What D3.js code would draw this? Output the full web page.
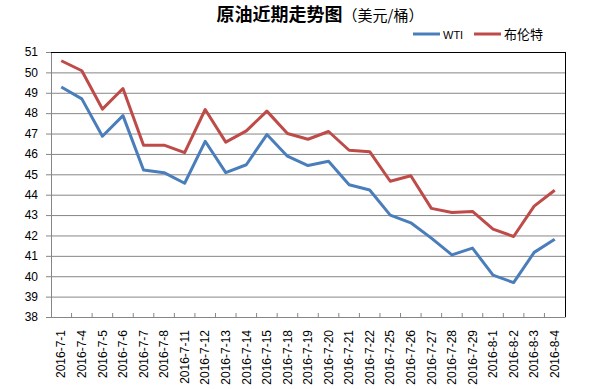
<!DOCTYPE html>
<html>
<head>
<meta charset="utf-8">
<script src="https://cdn.jsdelivr.net/npm/d3@7"></script>
<style>
  body { margin: 0; background: #fff; }
  text { font-family: "Liberation Sans", Arial, sans-serif; }
  .cjk { font-family: "Noto Sans CJK SC", sans-serif; }
</style>
</head>
<body>
<div id="chart"></div>
<script>
var dates = ["2016-7-1", "2016-7-4", "2016-7-5", "2016-7-6", "2016-7-7", "2016-7-8",
  "2016-7-11", "2016-7-12", "2016-7-13", "2016-7-14", "2016-7-15", "2016-7-18",
  "2016-7-19", "2016-7-20", "2016-7-21", "2016-7-22", "2016-7-25", "2016-7-26",
  "2016-7-27", "2016-7-28", "2016-7-29", "2016-8-1", "2016-8-2", "2016-8-3", "2016-8-4"];
var wti = [49.28, 48.7, 46.87, 47.88, 45.21, 45.08, 44.56, 46.62, 45.08, 45.47, 46.95, 45.89,
  45.43, 45.64, 44.49, 44.23, 43.0, 42.62, 41.87, 41.05, 41.38, 40.05, 39.69, 41.17, 41.81];
var brent = [50.57, 50.08, 48.2, 49.21, 46.43, 46.43, 46.06, 48.18, 46.58, 47.13, 48.1, 47.0,
  46.72, 47.1, 46.18, 46.11, 44.66, 44.93, 43.33, 43.13, 43.18, 42.31, 41.95, 43.44, 44.22];
var yTicks = [38, 39, 40, 41, 42, 43, 44, 45, 46, 47, 48, 49, 50, 51];
var seriesNames = ["WTI", "布伦特"];
var colors = ["#4A7EBB", "#BE4B48"];

var margin = { top: 52, right: 36, bottom: 72, left: 51 },
  width = 601 - margin.left - margin.right,
  height = 389 - margin.top - margin.bottom;

var svg = d3.select("#chart").append("svg")
  .attr("width", 601)
  .attr("height", 389);

var g = svg.append("g")
  .attr("transform", "translate(" + margin.left + "," + margin.top + ")");

var x = d3.scaleBand().domain(dates).range([0, width]);
var y = d3.scaleLinear().domain([38, 51]).range([height, 0]);

// gridlines + y axis
var yAxis = d3.axisLeft(y).tickValues(yTicks).tickSizeInner(-width).tickSizeOuter(0).tickPadding(13);
g.append("g")
  .attr("class", "y axis")
  .call(yAxis)
  .call(function(s) {
    s.select(".domain").attr("stroke", "#868686");
    s.selectAll(".tick line").attr("stroke", "#868686").attr("x1", -5);
    s.selectAll(".tick text").attr("font-size", 12).attr("fill", "#000");
  });

// top and right border
g.append("line").attr("x1", 0).attr("x2", width).attr("y1", 0.5).attr("y2", 0.5).attr("stroke", "#000");
g.append("line").attr("x1", width + 0.5).attr("x2", width + 0.5).attr("y1", 0).attr("y2", height).attr("stroke", "#000");

// x axis
var xAxis = d3.axisBottom(x).tickSize(0).tickPadding(0);
var xg = g.append("g")
  .attr("class", "x axis")
  .attr("transform", "translate(0," + height + ")")
  .call(xAxis);
xg.select(".domain").attr("stroke", "#868686");
xg.selectAll(".tick text")
  .attr("font-size", 12)
  .attr("fill", "#000")
  .style("text-anchor", "end")
  .attr("transform", "rotate(-90)")
  .attr("x", -13)
  .attr("y", 0)
  .attr("dy", "0.35em");
xg.selectAll(".bound")
  .data(dates.slice(1))
  .enter().append("line")
  .attr("class", "bound")
  .attr("x1", function(d) { return x(d); })
  .attr("x2", function(d) { return x(d); })
  .attr("y1", -4).attr("y2", 0)
  .attr("stroke", "#868686");

// lines
var line = d3.line()
  .x(function(d, i) { return x(dates[i]) + x.bandwidth() / 2; })
  .y(function(d) { return y(d); });

[wti, brent].forEach(function(s, k) {
  g.append("path")
    .datum(s)
    .attr("fill", "none")
    .attr("stroke", colors[k])
    .attr("stroke-width", 3)
    .attr("stroke-linejoin", "round")
    .attr("d", line);
});

// title
var title = svg.append("text")
  .attr("x", 320)
  .attr("y", 21)
  .attr("text-anchor", "middle")
  .attr("class", "cjk");
title.append("tspan").attr("font-size", 18).attr("font-weight", "bold").text("原油近期走势图");
title.append("tspan").attr("font-size", 15).text("（美元/桶）");

// legend
var legendX = [413, 474];
seriesNames.forEach(function(n, k) {
  svg.append("line")
    .attr("x1", legendX[k]).attr("x2", legendX[k] + 27)
    .attr("y1", 34).attr("y2", 34)
    .attr("stroke", colors[k]).attr("stroke-width", 3);
  svg.append("text")
    .attr("x", legendX[k] + 30)
    .attr("y", 38.5)
    .attr("class", k === 1 ? "cjk" : null)
    .attr("font-size", k === 1 ? 13 : 11)
    .text(n);
});
</script>
</body>
</html>
